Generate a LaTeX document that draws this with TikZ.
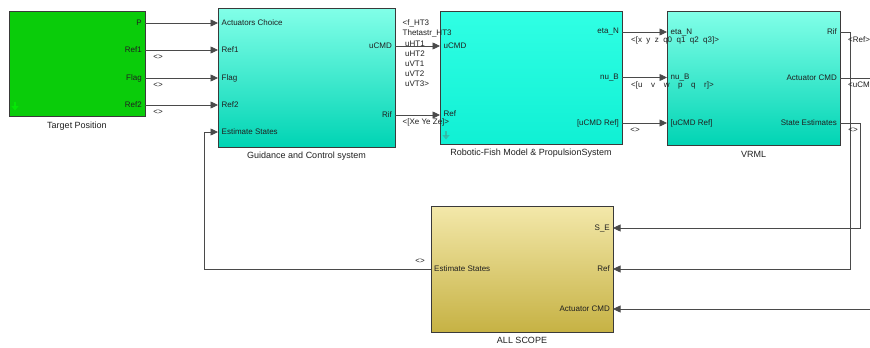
\documentclass[tikz,border=0pt]{standalone}
\usepackage{fontspec}
\setmainfont{Liberation Sans}
\usetikzlibrary{arrows.meta,shadows}
\definecolor{ln}{HTML}{4A4A4A}
\definecolor{bd}{HTML}{3A3A3A}
\definecolor{grn}{HTML}{0ACC0A}
\definecolor{cyT}{HTML}{82FFE8}
\definecolor{cyB}{HTML}{00D4B4}
\definecolor{cfT}{HTML}{30FFE4}
\definecolor{cfB}{HTML}{10F0D4}
\definecolor{ylT}{HTML}{F3E8AA}
\definecolor{ylM}{HTML}{EEE09E}
\definecolor{ylB}{HTML}{C6B244}
\definecolor{txt}{HTML}{202020}
\begin{document}
\begin{tikzpicture}[x=1pt,y=-1pt,
  font=\fontsize{8}{9.6}\selectfont,
  blk/.style={draw=bd, line width=0.8pt, inner sep=0pt, outer sep=0pt,
    drop shadow={shadow xshift=1.3pt, shadow yshift=-1.3pt, fill=black!40, opacity=1}},
  sig/.style={draw=ln, line width=0.7pt},
  arr/.style={sig, -{Triangle[length=7.5pt,width=7pt]}},
  pin/.style={anchor=west, inner sep=0pt, text=txt},
  pout/.style={anchor=east, inner sep=0pt, text=txt},
  blab/.style={font=\fontsize{9}{10.8}\selectfont, inner sep=0pt, text=txt},
  slab/.style={anchor=west, inner sep=0pt, text=txt},
  clab/.style={inner sep=0pt, text=txt}
]
\useasboundingbox (0,0) rectangle (870,348);
\fill[white] (0,0) rectangle (870,348);

% ---------- blocks ----------
\node[blk, fill=grn, minimum width=136pt, minimum height=105pt] (tp) at (77,63.5) {};
\node[blk, top color=cyT, bottom color=cyB, minimum width=177pt, minimum height=139pt] (gc) at (306.5,77.5) {};
\node[blk, top color=cfT, bottom color=cfB, minimum width=182pt, minimum height=133pt] (rf) at (531,77.5) {};
\node[blk, top color=cyT, bottom color=cyB, minimum width=173pt, minimum height=134pt] (vr) at (753.5,78) {};
\node[blk, top color=ylT, middle color=ylM, bottom color=ylB, minimum width=182pt, minimum height=126pt] (sc) at (522,269) {};

% small subsystem icons
\fill[green!55!grn, opacity=0.9] (13.6,102) rectangle (16.4,106.5);
\fill[green!55!grn, opacity=0.9] (11.3,106) -- (18.7,106) -- (15,110.5) -- cycle;
\fill[cyB!55!gray, opacity=0.7] (444.6,131) rectangle (447.4,135.5);
\fill[cyB!55!gray, opacity=0.7] (442.3,135) -- (449.7,135) -- (446,139.5) -- cycle;

% ---------- block labels ----------
\node[blab] (tpL) at (77,126) {Target Position};
\node[blab] (gcL) at (306.5,156) {Guidance and Control system};
\node[blab] (rfL) at (531,153.5) {Robotic-Fish Model \& PropulsionSystem};
\node[blab] (vrL) at (753.5,154.5) {VRML};
\node[blab] (scL) at (522,340) {ALL SCOPE};

% ---------- port coordinates ----------
\coordinate (tpP) at (145,23);
\coordinate (tpR1) at (145,50);
\coordinate (tpF) at (145,78);
\coordinate (tpR2) at (145,105);
\coordinate (gcAC) at (218,23);
\coordinate (gcR1) at (218,50);
\coordinate (gcF) at (218,78);
\coordinate (gcR2) at (218,105);
\coordinate (gcES) at (218,132);
\coordinate (gcU) at (395,46);
\coordinate (gcRif) at (395,115);
\coordinate (rfU) at (440,46);
\coordinate (rfRef) at (440,115);
\coordinate (rfEta) at (622,32);
\coordinate (rfNu) at (622,77.5);
\coordinate (rfUR) at (622,123);
\coordinate (vrEta) at (667,32);
\coordinate (vrNu) at (667,77.5);
\coordinate (vrUR) at (667,123);
\coordinate (vrRif) at (840,32);
\coordinate (vrAC) at (840,78);
\coordinate (vrSE) at (840,123);
\coordinate (scSE) at (613,228);
\coordinate (scRef) at (613,269);
\coordinate (scAC) at (613,309);
\coordinate (scES) at (431,269);
\coordinate (edgeA) at (870,78);
\coordinate (edgeB) at (870,309);

% ---------- connectors ----------
\draw[arr] (tpP) -- (gcAC);
\draw[arr] (tpR1) -- (gcR1);
\draw[arr] (tpF) -- (gcF);
\draw[arr] (tpR2) -- (gcR2);
\draw[arr] (gcU) -- (rfU);
\draw[arr] (gcRif) -- (rfRef);
\draw[arr] (rfEta) -- (vrEta);
\draw[arr] (rfNu) -- (vrNu);
\draw[arr] (rfUR) -- (vrUR);
\draw[arr] (vrRif) -- (850,32) -- (850,269) -- (scRef);
\draw[arr] (vrSE) -- (860,123) -- (860,228) -- (scSE);
\draw[sig] (vrAC) -- (edgeA);
\draw[arr] (edgeB) -- (scAC);
\draw[arr] (scES) -- (204,269) -- (204,132) -- (gcES);

% ---------- port labels ----------
\node[pout] (tpPl) at (142,23) {P};
\node[pout] (tpR1l) at (142,50) {Ref1};
\node[pout] (tpFl) at (142,78) {Flag};
\node[pout] (tpR2l) at (142,105) {Ref2};

\node[pin] (gcACl) at (221.5,23) {Actuators Choice};
\node[pin] (gcR1l) at (221.5,50) {Ref1};
\node[pin] (gcFl) at (221.5,78) {Flag};
\node[pin] (gcR2l) at (221.5,105) {Ref2};
\node[pin] (gcESl) at (221.5,132) {Estimate States};
\node[pout] (gcUl) at (392,46) {uCMD};
\node[pout] (gcRifl) at (392,115) {Rif};

\node[pin] (rfUl) at (443.5,46) {uCMD};
\node[pin] (rfRefl) at (443.5,114) {Ref};
\node[pout] (rfEtal) at (619,32) {eta\_N};
\node[pout] (rfNul) at (619,77.5) {nu\_B};
\node[pout] (rfURl) at (619,123) {[uCMD Ref]};

\node[pin] (vrEtal) at (670.5,33) {eta\_N};
\node[pin] (vrNul) at (670.5,78) {nu\_B};
\node[pin] (vrURl) at (670.5,123) {[uCMD Ref]};
\node[pout] (vrRifl) at (837,32) {Rif};
\node[pout] (vrACl) at (837,78) {Actuator CMD};
\node[pout] (vrSEl) at (837,123) {State Estimates};

\node[pout] (scSEl) at (610,228) {S\_E};
\node[pout] (scRefl) at (610,269) {Ref};
\node[pout] (scACl) at (610,309) {Actuator CMD};
\node[pin] (scESl) at (434,269) {Estimate States};

% ---------- signal labels ----------
\node[clab] (s1) at (158,57) {<>};
\node[clab] (s2) at (158,85) {<>};
\node[clab] (s3) at (158,112) {<>};
\node[slab] (u1) at (402.5,23.5) {<f\_HT3};
\node[slab] (u2) at (402.5,33.5) {Thetastr\_HT3};
\node[slab] (u3) at (405,43.5) {uHT1};
\node[slab] (u4) at (405,53.5) {uHT2};
\node[slab] (u5) at (405,63.5) {uVT1};
\node[slab] (u6) at (405,73.5) {uVT2};
\node[slab] (u7) at (405,84) {uVT3>};
\node[slab] (xe) at (402.5,122) {<[Xe Ye Ze]>};
\node[slab] (xq) at (631,40) {<[x\hspace{4.4pt}y\hspace{4.4pt}z\hspace{4.4pt}q0\hspace{4.4pt}q1\hspace{4.4pt}q2\hspace{4.4pt}q3]>};
\node[slab] (uv) at (631,85) {<[u\hspace{8.6pt}v\hspace{8.6pt}w\hspace{8.6pt}p\hspace{8.6pt}q\hspace{8.6pt}r]>};
\node[clab] (s4) at (635,130) {<>};
\node[slab] (rr) at (848,40) {<Ref>};
\node[slab] (uc) at (848,85) {<uCM};
\node[clab] (s5) at (853,130) {<>};
\node[clab] (s6) at (420,261.5) {<>};
\end{tikzpicture}
\end{document}
